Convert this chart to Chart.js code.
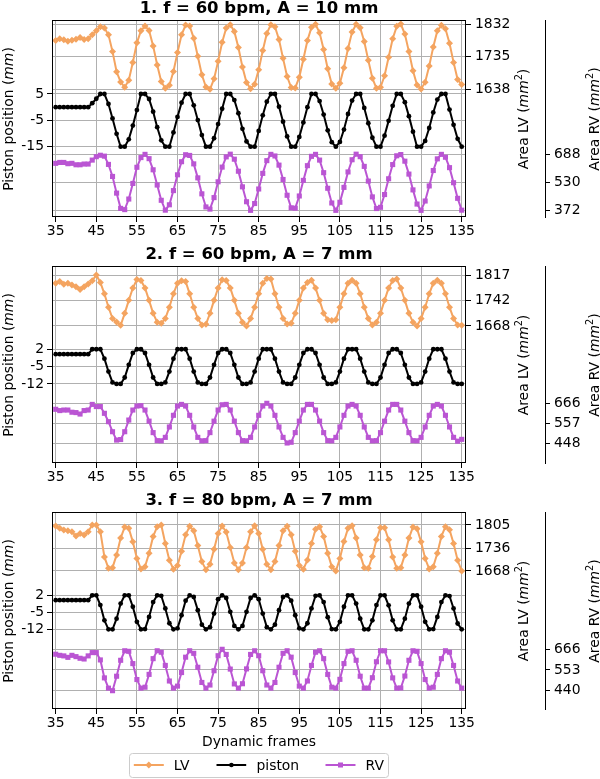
<!DOCTYPE html>
<html><head><meta charset="utf-8">
<script src="https://cdn.jsdelivr.net/npm/chart.js@4.4.1/dist/chart.umd.min.js"></script>
<style>
body{margin:0;width:600px;height:779px;position:relative;background:#fff;font-family:'DejaVu Sans',sans-serif;overflow:hidden}
canvas{position:absolute;left:0}
.t{position:absolute;left:52px;width:414px;text-align:center;font-weight:bold;font-size:16.5px;line-height:16px;white-space:nowrap;color:#000}
.yl{position:absolute;width:200px;height:16px;font-size:13.9px;line-height:16px;text-align:center;white-space:nowrap;transform:rotate(-90deg);color:#000}
.yl sup{font-size:70%;line-height:0}
.xl{position:absolute;left:52px;width:414px;text-align:center;font-size:13.9px;line-height:16px;color:#000}
</style></head><body>
<canvas id="c1" width="600" height="246" style="top:0px"></canvas>
<canvas id="c2" width="600" height="246" style="top:246px"></canvas>
<canvas id="c3" width="600" height="246" style="top:492px"></canvas>

<div class="t" style="top:0px">1. f = 60 bpm, A = 10 mm</div>
<div class="t" style="top:246px">2. f = 60 bpm, A = 7 mm</div>
<div class="t" style="top:492px">3. f = 80 bpm, A = 7 mm</div>

<div class="yl" style="left:-92.5px;top:110.5px">Piston position (<i>mm</i>)</div>
<div class="yl" style="left:423px;top:110.5px">Area LV (<i>mm</i><sup>2</sup>)</div>
<div class="yl" style="left:493.5px;top:110.5px">Area RV (<i>mm</i><sup>2</sup>)</div>
<div class="yl" style="left:-92.5px;top:356.5px">Piston position (<i>mm</i>)</div>
<div class="yl" style="left:423px;top:356.5px">Area LV (<i>mm</i><sup>2</sup>)</div>
<div class="yl" style="left:493.5px;top:356.5px">Area RV (<i>mm</i><sup>2</sup>)</div>
<div class="yl" style="left:-92.5px;top:602.5px">Piston position (<i>mm</i>)</div>
<div class="yl" style="left:423px;top:602.5px">Area LV (<i>mm</i><sup>2</sup>)</div>
<div class="yl" style="left:493.5px;top:602.5px">Area RV (<i>mm</i><sup>2</sup>)</div>

<div class="xl" style="top:733.2px">Dynamic frames</div>

<svg style="position:absolute;left:128.5px;top:753px" width="261" height="26">
  <rect x="0.5" y="0.5" width="259" height="24" rx="3" ry="3" fill="#fff" stroke="#cccccc" stroke-width="1"/>
  <line x1="4.8" y1="12" x2="34.8" y2="12" stroke="#F4A460" stroke-width="2"/>
  <polygon points="19.8,8.5 23.3,12 19.8,15.5 16.3,12" fill="#F4A460"/>
  <text x="44.8" y="17" font-family="DejaVu Sans" font-size="13.9" fill="#000">LV</text>
  <line x1="87.5" y1="12" x2="117.2" y2="12" stroke="#000" stroke-width="2"/>
  <circle cx="102.4" cy="12" r="2.3" fill="#000"/>
  <text x="127.5" y="17" font-family="DejaVu Sans" font-size="13.9" fill="#000">piston</text>
  <line x1="196.5" y1="12" x2="226.5" y2="12" stroke="#BA55D3" stroke-width="2"/>
  <rect x="209" y="9.5" width="5" height="5" fill="#BA55D3"/>
  <text x="236.5" y="17" font-family="DejaVu Sans" font-size="13.9" fill="#000">RV</text>
</svg>

<script>
const frames = [35,36,37,38,39,40,41,42,43,44,
45,46,47,48,49,50,51,52,53,54,
55,56,57,58,59,60,61,62,63,64,
65,66,67,68,69,70,71,72,73,74,
75,76,77,78,79,80,81,82,83,84,
85,86,87,88,89,90,91,92,93,94,
95,96,97,98,99,100,101,102,103,104,
105,106,107,108,109,110,111,112,113,114,
115,116,117,118,119,120,121,122,123,124,
125,126,127,128,129,130,131,132,133,134,
135];
const xTicks = [35,45,55,65,75,85,95,105,115,125,135];

// Panel 1: f = 60 bpm, A = 10 mm
const piston1 = [0,0,0,0,0,0,0,0,0,1.5,
3.2,5,5,1.2,-4.3,-10.1,-15,-15,-12.2,-7,
-1.1,5,5,3.1,-1.7,-7.6,-12.6,-15,-15,-9.6,
-3.7,1.7,5,5,0.7,-4.9,-10.6,-15,-15,-11.8,
-6.4,-0.6,5,5,2.7,-2.3,-8.2,-13,-15,-15,
-9,-3.1,2.1,5,5,0.2,-5.5,-11.1,-15,-15,
-11.3,-5.8,0,5,5,2.3,-2.8,-8.8,-13.3,-15,
-13.2,-8.5,-2.6,2.5,5,5,-0.3,-6.1,-11.6,-15,
-15,-10.8,-5.2,0.5,5,5,1.9,-3.4,-9.3,-15,
-15,-12.8,-7.9,-2,2.9,5,5,-0.9,-6.7,-12,
-15];
const lv1 = [1783,1788,1785,1781,1784,1787,1792,1786,1788,1800,
1812,1824,1820,1800,1750,1690,1660,1644,1665,1718,
1776,1812,1826,1813,1767,1710,1661,1641,1650,1691,
1747,1800,1829,1826,1790,1736,1681,1645,1638,1669,
1721,1778,1820,1830,1810,1762,1704,1658,1640,1653,
1696,1753,1804,1830,1824,1786,1730,1676,1643,1642,
1674,1727,1783,1822,1831,1806,1756,1699,1654,1641,
1656,1702,1759,1808,1831,1821,1780,1724,1671,1641,
1644,1678,1733,1788,1825,1832,1802,1750,1693,1651,
1639,1659,1707,1764,1812,1828,1818,1775,1718,1667,
1652];
const rv1 = [636,641,641,634,636,628,628,632,632,654,
673,681,676,630,563,470,385,378,437,524,
614,668,686,662,600,515,430,375,405,484,
572,645,684,680,633,555,466,393,381,445,
533,615,672,687,659,592,505,422,374,412,
493,580,651,686,677,626,546,458,388,386,
454,541,623,675,686,654,584,497,415,374,
419,502,588,656,687,673,619,537,449,384,
391,462,550,629,678,685,648,576,488,409,
374,426,510,596,661,686,670,612,528,441,
375];
const pistonTicks1 = [5,-5,-15];
const lvTicks1 = [1832,1735,1638];
const rvTicks1 = [688,530,372];

// Panel 2: f = 60 bpm, A = 7 mm
const piston2 = [0,0,0,0,0,0,0,0,0,2,
2,2,-1.8,-7,-11.4,-12,-12,-9.4,-4.3,0.5,
2,2,0.5,-4.3,-9.4,-12,-12,-11.4,-7,-1.8,
2,2,2,-1.8,-7,-11.4,-12,-12,-9.4,-4.3,
0.5,2,2,0.5,-4.3,-9.4,-12,-12,-11.4,-7,
-1.8,2,2,2,-1.8,-7,-11.4,-12,-12,-9.4,
-4.3,0.5,2,2,0.5,-4.3,-9.4,-12,-12,-11.4,
-7,-1.8,2,2,2,-1.8,-7,-11.4,-12,-12,
-9.4,-4.3,0.5,2,2,0.5,-4.3,-9.4,-12,-12,
-11.4,-7,-1.8,2,2,2,-1.8,-7,-11.4,-12,
-12];
const lv2 = [1793,1798,1790,1793,1788,1783,1775,1783,1791,1800,
1817,1795,1762,1723,1690,1680,1670,1705,1743,1779,
1804,1801,1779,1743,1705,1679,1676,1690,1723,1762,
1793,1800,1798,1762,1723,1690,1671,1673,1705,1743,
1779,1803,1801,1779,1743,1705,1679,1668,1690,1723,
1762,1793,1807,1805,1762,1723,1690,1674,1676,1705,
1743,1779,1795,1802,1779,1743,1705,1686,1684,1686,
1723,1762,1793,1802,1793,1762,1723,1690,1671,1679,
1705,1743,1779,1801,1805,1779,1743,1705,1679,1668,
1690,1723,1762,1793,1802,1793,1762,1723,1690,1671,
1670];
const rv2 = [633,626,629,629,617,615,607,626,629,660,
648,648,611,565,510,464,467,510,574,629,
651,653,629,568,505,461,460,479,536,600,
651,660,651,600,536,479,460,461,505,568,
629,658,660,629,568,505,461,460,479,536,
600,651,666,651,600,536,479,448,452,505,
568,629,660,660,629,568,505,461,460,479,
536,600,651,660,651,600,536,479,460,461,
505,568,629,660,660,629,568,505,461,460,
479,536,600,651,660,651,600,536,479,458,
468];
const pistonTicks2 = [2,-5,-12];
const lvTicks2 = [1817,1742,1668];
const rvTicks2 = [666,557,448];

// Panel 3: f = 80 bpm, A = 7 mm
const piston3 = [0,0,0,0,0,0,0,0,0,2,
2,-2,-8.3,-12,-12,-7.6,-1.4,2,2,-2.7,
-8.9,-12,-11.9,-6.9,-0.8,2,1.8,-3.4,-9.5,-12,
-11.6,-6.2,-0.2,2,1.3,-4.1,-10.1,-12,-11.1,-5.5,
0.4,2,0.9,-4.8,-10.6,-12,-10.6,-4.8,0.9,2,
0.4,-5.5,-11.1,-12,-10.1,-4.1,1.3,2,-0.2,-6.2,
-11.6,-12,-9.5,-3.4,1.8,2,-0.8,-7,-11.9,-12,
-8.9,-2.7,2,2,-1.4,-7.6,-12,-12,-8.3,-2,
2,2,-2.1,-8.3,-12,-12,-7.6,-1.4,2,2,
-2.7,-8.9,-12,-11.9,-6.9,-0.8,2,1.7,-3.4,-9.6,
-12];
const lv3 = [1802,1795,1790,1788,1785,1772,1780,1775,1785,1805,
1805,1785,1710,1676,1678,1716,1766,1799,1795,1755,
1705,1674,1681,1721,1771,1800,1805,1750,1700,1673,
1684,1727,1776,1801,1788,1744,1696,1672,1688,1733,
1780,1802,1784,1738,1692,1672,1692,1738,1785,1803,
1780,1733,1688,1672,1696,1744,1788,1801,1776,1727,
1684,1673,1701,1750,1792,1800,1771,1721,1681,1668,
1705,1756,1795,1803,1766,1716,1678,1676,1711,1761,
1797,1797,1761,1710,1676,1678,1716,1766,1799,1794,
1755,1705,1674,1681,1721,1771,1800,1791,1750,1700,
1668];
const rv3 = [639,633,630,622,633,626,617,613,630,648,
648,608,510,454,440,519,606,658,655,588,
501,454,459,529,615,658,650,578,493,454,
465,539,623,658,644,568,485,454,471,549,
631,666,638,558,477,454,478,559,638,658,
631,549,471,454,485,568,644,658,623,539,
465,454,493,578,650,658,615,529,459,454,
502,588,655,658,606,519,454,454,511,598,
658,658,597,510,454,455,520,606,658,655,
588,501,454,459,529,615,658,650,578,493,
454];
const pistonTicks3 = [2,-5,-12];
const lvTicks3 = [1805,1736,1668];
const rvTicks3 = [666,553,440];

const LVC = '#F4A460', PC = '#000000', RVC = '#BA55D3', GRID = '#b0b0b0';
const TF = {family:'DejaVu Sans', size:13.9};
const fmt = v => String(v);

const panels = [
  {id:'c1', p:piston1, lv:lv1, rv:rv1, pt:pistonTicks1, lt:lvTicks1, rt:rvTicks1,
   yr:[-41.68,33.08], lr:[1258.6,1843.9], rr:[336.9,1434.8]},
  {id:'c2', p:piston2, lv:lv2, rv:rv2, pt:pistonTicks2, lt:lvTicks2, rt:rvTicks2,
   yr:[-43.9,35.6], lr:[1267.7,1843.3], rr:[338.2,1419.9]},
  {id:'c3', p:piston3, lv:lv3, rv:rv3, pt:pistonTicks3, lt:lvTicks3, rt:rvTicks3,
   yr:[-44.8,36.3], lr:[1257,1843.7], rr:[340.1,1415.5]}
];

const framePlugin = {
  id:'frame',
  afterDatasetsDraw(chart){
    const a = chart.chartArea, c = chart.ctx;
    c.save(); c.strokeStyle = '#000'; c.lineWidth = 1;
    const l = Math.round(a.left)+0.5, t = Math.round(a.top)+0.5;
    const r = Math.round(a.right)-0.5, b = Math.round(a.bottom)-0.5;
    c.strokeRect(l, t, r-l, b-t);
    c.restore();
  }
};

function yScale(pos, range, ticks, width, weight, border, pad){
  return {
    type:'linear', position:pos, min:range[0], max:range[1], weight:weight,
    afterBuildTicks: s => { s.ticks = ticks.slice().sort((a,b)=>a-b).map(v=>({value:v})); },
    afterFit: s => { s.width = width; },
    grid:{color:GRID, lineWidth:1, drawTicks:true, tickLength:5, tickColor:'#000', tickWidth:1},
    border:{display:border, color:'#000', width:1},
    ticks:{font:TF, color:'#000', padding:pad, autoSkip:false, callback:fmt}
  };
}

function series(vals){ return frames.map((f,i)=>({x:f, y:vals[i]})); }

panels.forEach(P => {
  new Chart(document.getElementById(P.id), {
    type:'line',
    data:{datasets:[
      {label:'LV', data:series(P.lv), yAxisID:'yLV', borderColor:LVC, backgroundColor:LVC,
       borderWidth:2, pointStyle:'rectRot', pointRadius:3.5, pointBorderWidth:0, pointBackgroundColor:LVC, tension:0},
      {label:'piston', data:series(P.p), yAxisID:'y', borderColor:PC, backgroundColor:PC,
       borderWidth:2, pointStyle:'circle', pointRadius:2.4, pointBorderWidth:0, pointBackgroundColor:PC, tension:0},
      {label:'RV', data:series(P.rv), yAxisID:'yRV', borderColor:RVC, backgroundColor:RVC,
       borderWidth:2, pointStyle:'rect', pointRadius:3.6, pointBorderWidth:0, pointBackgroundColor:RVC, tension:0}
    ]},
    options:{
      responsive:false, devicePixelRatio:1, animation:false, events:[],
      layout:{padding:{top:20, left:0, right:0, bottom:0}},
      plugins:{legend:{display:false}, tooltip:{enabled:false}, title:{display:false}},
      scales:{
        x:{type:'linear', position:'bottom', min:34.09, max:136.06,
           afterBuildTicks: s => { s.ticks = xTicks.map(v=>({value:v})); },
           afterFit: s => { s.height = 29; },
           grid:{color:GRID, lineWidth:1, drawTicks:true, tickLength:5, tickColor:'#000', tickWidth:1},
           border:{display:false},
           ticks:{font:TF, color:'#000', padding:1, maxRotation:0, autoSkip:false, callback:v=>String(v)}},
        y: yScale('left', P.yr, P.pt, 52, 0, false, 3),
        yLV: yScale('right', P.lr, P.lt, 79, 0, false, 4),
        yRV: yScale('right', P.rr, P.rt, 55, 1, true, 4)
      }
    },
    plugins:[framePlugin]
  });
});
</script>
</body></html>
